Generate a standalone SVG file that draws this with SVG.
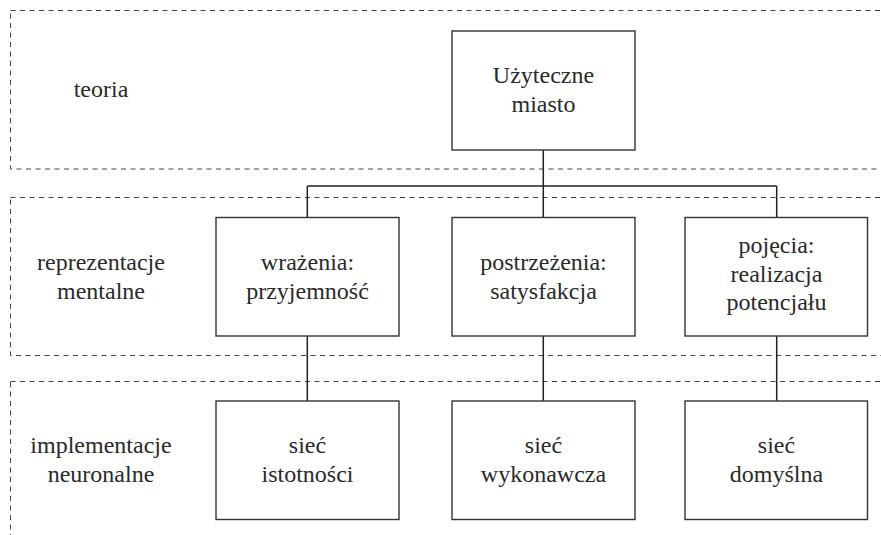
<svg xmlns="http://www.w3.org/2000/svg" width="881" height="535" viewBox="0 0 881 535">
<style>
.band{fill:none;stroke:#444;stroke-width:1;stroke-dasharray:5 4.5}
.box{fill:#fff;stroke:#333;stroke-width:1.4}
.conn{fill:none;stroke:#222;stroke-width:1.5}
.t{font-family:'Liberation Serif','Times New Roman',serif;font-size:24px;fill:#2a2a2a;text-anchor:middle}
</style>
<rect width="881" height="535" fill="#fff"/>
<g id="bands">
<rect class="band" x="10.5" y="10.5" width="900" height="158.5"/>
<rect class="band" x="10.5" y="197.5" width="900" height="158"/>
<rect class="band" x="10.5" y="381.5" width="900" height="200"/>
<text class="t" font-family="Liberation Serif" x="101" y="97">teoria</text>
<text class="t" font-family="Liberation Serif" x="101" y="270">reprezentacje</text>
<text class="t" font-family="Liberation Serif" x="101" y="299">mentalne</text>
<text class="t" font-family="Liberation Serif" x="101" y="453">implementacje</text>
<text class="t" font-family="Liberation Serif" x="101" y="482">neuronalne</text>
</g>
<g id="connectors">
<path class="conn" d="M543.3 150V186M307.3 186H776.7M307.3 186V217.5M543.3 186V217.5M776.7 186V217.5M307.3 336V401M543.3 336V401M776.7 336V401"/>
</g>
<g id="n-top"><rect class="box" x="452" y="31" width="183" height="119"/><text class="t" x="543.5" y="83">Użyteczne</text><text class="t" x="543.5" y="112">miasto</text></g>
<g id="n-wrazenia"><rect class="box" x="216" y="217.5" width="183" height="118.5"/><text class="t" x="307.5" y="270">wrażenia:</text><text class="t" x="307.5" y="299">przyjemność</text></g>
<g id="n-postrzezenia"><rect class="box" x="452" y="217.5" width="183" height="118.5"/><text class="t" x="543.5" y="270">postrzeżenia:</text><text class="t" x="543.5" y="299">satysfakcja</text></g>
<g id="n-pojecia"><rect class="box" x="685" y="217.5" width="182.5" height="118.5"/><text class="t" x="776.5" y="253">pojęcia:</text><text class="t" x="776.5" y="281.5">realizacja</text><text class="t" x="776.5" y="310">potencjału</text></g>
<g id="n-istotnosci"><rect class="box" x="216" y="401" width="183" height="118.5"/><text class="t" x="307.5" y="453">sieć</text><text class="t" x="307.5" y="482">istotności</text></g>
<g id="n-wykonawcza"><rect class="box" x="452" y="401" width="183" height="118.5"/><text class="t" x="543.5" y="453">sieć</text><text class="t" x="543.5" y="482">wykonawcza</text></g>
<g id="n-domyslna"><rect class="box" x="685" y="401" width="182.5" height="118.5"/><text class="t" x="776.5" y="453">sieć</text><text class="t" x="776.5" y="482">domyślna</text></g>
</svg>
